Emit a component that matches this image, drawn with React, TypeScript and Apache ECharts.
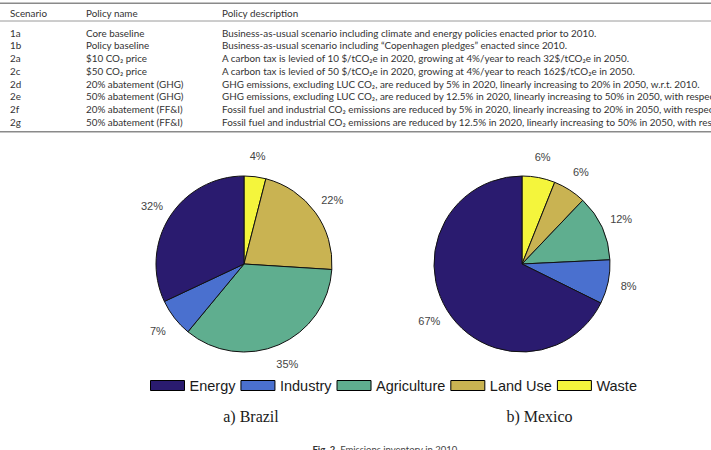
import React, { useEffect, useRef } from "react";
import * as echarts from "echarts";

// Emission shares by sector, 2010 (percent)
const sectors = ["Energy", "Industry", "Agriculture", "Land Use", "Waste"];
const brazilShares = [32, 7, 35, 22, 4];
const mexicoShares = [67, 8, 12, 6, 6];
const sectorColors = ["#2a1b6f", "#4a70cf", "#5fae8f", "#c9b352", "#f4f53c"];

// Scenario table
const tableHeaders = ["Scenario", "Policy name", "Policy description"];
const scenarioIds = ["1a", "1b", "2a", "2c", "2d", "2e", "2f", "2g"];
const policyNames = [
  "Core baseline",
  "Policy baseline",
  "$10 CO\u2082 price",
  "$50 CO\u2082 price",
  "20% abatement (GHG)",
  "50% abatement (GHG)",
  "20% abatement (FF&I)",
  "50% abatement (FF&I)",
];
const policyDescriptions = [
  "Business-as-usual scenario including climate and energy policies enacted prior to 2010.",
  "Business-as-usual scenario including \u201cCopenhagen pledges\u201d enacted since 2010.",
  "A carbon tax is levied of 10 $/tCO\u2082e in 2020, growing at 4%/year to reach 32$/tCO\u2082e in 2050.",
  "A carbon tax is levied of 50 $/tCO\u2082e in 2020, growing at 4%/year to reach 162$/tCO\u2082e in 2050.",
  "GHG emissions, excluding LUC CO\u2082, are reduced by 5% in 2020, linearly increasing to 20% in 2050, w.r.t. 2010.",
  "GHG emissions, excluding LUC CO\u2082, are reduced by 12.5% in 2020, linearly increasing to 50% in 2050, with respect to 2010.",
  "Fossil fuel and industrial CO\u2082 emissions are reduced by 5% in 2020, linearly increasing to 20% in 2050, with respect to 2010.",
  "Fossil fuel and industrial CO\u2082 emissions are reduced by 12.5% in 2020, linearly increasing to 50% in 2050, with respect to 2010.",
];

const panelCaptions = ["a) Brazil", "b) Mexico"];
const figureCaptionLead = "Fig. 2.";
const figureCaptionText = "Emissions inventory in 2010.";

const W = 711;
const H = 450;
const PIE_R = 88;
const LABEL_BAND = 36;
const TABLE_FONT = "Lato, 'Open Sans', sans-serif";
const TABLE_FONT_SIZE = 9.85;
const TEXT_GRAY = "#333";

function pieSeries(values: number[], center: [number, number]) {
  // clockwise from 12 o'clock: Waste, Land Use, Agriculture, Industry, Energy
  const slices = sectors
    .map((name, i) => ({ name, value: values[i], color: sectorColors[i] }))
    .reverse();
  return [
    {
      type: "pie",
      center,
      radius: PIE_R,
      startAngle: 90,
      clockwise: true,
      silent: true,
      data: slices.map((s) => ({ name: s.name, value: s.value, itemStyle: { color: s.color } })),
      itemStyle: { borderColor: "#111", borderWidth: 1 },
      label: { show: false },
      labelLine: { show: false },
      emphasis: { disabled: true },
    },
    {
      // transparent ring that carries the percentage labels just outside the pie
      type: "pie",
      center,
      radius: [PIE_R, PIE_R + LABEL_BAND],
      startAngle: 90,
      clockwise: true,
      silent: true,
      data: slices.map((s) => ({ name: s.name, value: s.value })),
      itemStyle: { color: "rgba(0,0,0,0)", borderWidth: 0 },
      label: {
        show: true,
        position: "inside",
        formatter: (p: any) => `${p.value}%`,
        color: "#444",
        fontSize: 11,
        fontFamily: "'Liberation Sans', Arial, sans-serif",
      },
      labelLine: { show: false },
      emphasis: { disabled: true },
    },
  ];
}

function textEl(text: string, x: number, y: number, extra: any = {}) {
  return {
    type: "text",
    x,
    y,
    silent: true,
    style: {
      text,
      fill: TEXT_GRAY,
      fontSize: TABLE_FONT_SIZE,
      fontFamily: TABLE_FONT,
      align: "left",
      verticalAlign: "middle",
      textAlign: "left",
      textVerticalAlign: "middle",
      ...extra,
    },
  };
}

function tableGraphics() {
  const colX = [10, 86, 222];
  const headerY = 13;
  const firstRowY = 32.7;
  const rowStep = 12.7;
  const els: any[] = [];
  els.push({ type: "line", shape: { x1: 0, y1: 3.3, x2: W, y2: 3.3 }, style: { stroke: "#8a8a8a", lineWidth: 1.6 } });
  els.push({ type: "line", shape: { x1: 0, y1: 21, x2: W, y2: 21 }, style: { stroke: "#9a9a9a", lineWidth: 1 } });
  els.push({ type: "line", shape: { x1: 0, y1: 131.7, x2: W, y2: 131.7 }, style: { stroke: "#8a8a8a", lineWidth: 1.6 } });
  tableHeaders.forEach((h, i) => els.push(textEl(h, colX[i], headerY)));
  scenarioIds.forEach((id, r) => {
    const y = firstRowY + r * rowStep;
    els.push(textEl(id, colX[0], y));
    els.push(textEl(policyNames[r], colX[1], y));
    els.push(textEl(policyDescriptions[r], colX[2], y));
  });
  return els;
}

export default function App() {
  const ref = useRef<HTMLDivElement>(null);

  useEffect(() => {
    if (!ref.current) return;
    const chart = echarts.init(ref.current, undefined, { renderer: "svg" });
    const brazilCenter: [number, number] = [244, 264];
    const mexicoCenter: [number, number] = [522, 264];

    chart.setOption({
      animation: false,
      backgroundColor: "#ffffff",
      legend: {
        data: sectors,
        left: 150,
        top: 378,
        padding: 0,
        icon: "rect",
        itemWidth: 34,
        itemHeight: 10,
        itemGap: 5,
        selectedMode: false,
        itemStyle: { borderColor: "#000", borderWidth: 1 },
        textStyle: {
          fontSize: 14.5,
          color: "#1a1a1a",
          fontFamily: "'Liberation Sans', Arial, sans-serif",
        },
      },
      series: [...pieSeries(brazilShares, brazilCenter), ...pieSeries(mexicoShares, mexicoCenter)],
      graphic: [
        ...tableGraphics(),
        {
          type: "text",
          x: 251,
          y: 416,
          silent: true,
          style: {
            text: panelCaptions[0],
            fill: "#1a1a1a",
            fontSize: 16,
            fontFamily: "'Liberation Serif', 'Times New Roman', serif",
            align: "center",
            verticalAlign: "middle",
            textAlign: "center",
            textVerticalAlign: "middle",
          },
        },
        {
          type: "text",
          x: 539.5,
          y: 416,
          silent: true,
          style: {
            text: panelCaptions[1],
            fill: "#1a1a1a",
            fontSize: 16,
            fontFamily: "'Liberation Serif', 'Times New Roman', serif",
            align: "center",
            verticalAlign: "middle",
            textAlign: "center",
            textVerticalAlign: "middle",
          },
        },
        {
          type: "text",
          x: 386,
          y: 449,
          silent: true,
          style: {
            text: `{b|${figureCaptionLead}} ${figureCaptionText}`,
            fill: "#444",
            fontSize: 9.5,
            fontFamily: TABLE_FONT,
            align: "center",
            verticalAlign: "middle",
            textAlign: "center",
            textVerticalAlign: "middle",
            rich: {
              b: { fontWeight: "bold", fontSize: 9.5, fontFamily: TABLE_FONT, fill: "#333" },
            },
          },
        },
      ],
    });

    return () => chart.dispose();
  }, []);

  return (
    <div
      ref={ref}
      style={{ position: "fixed", left: 0, top: 0, width: W, height: H, background: "#fff" }}
    />
  );
}
